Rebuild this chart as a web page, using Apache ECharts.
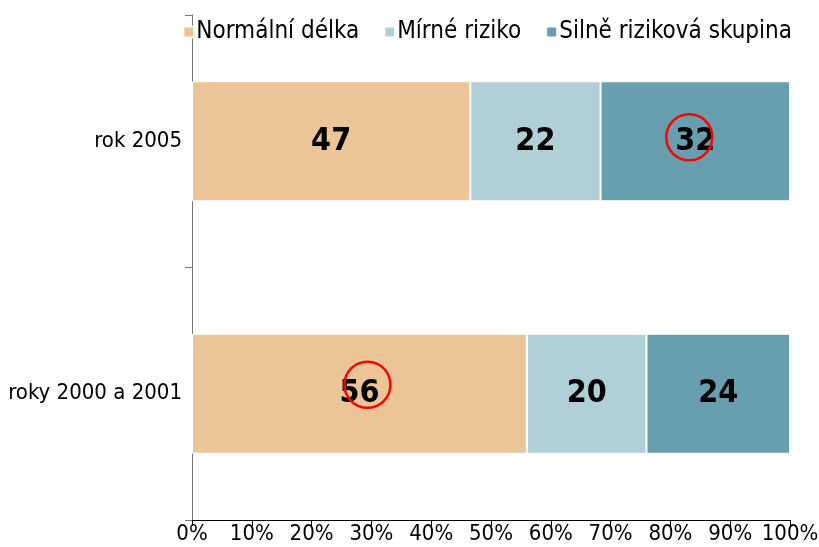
<!DOCTYPE html>
<html>
<head>
<meta charset="utf-8">
<script src="https://cdn.jsdelivr.net/npm/echarts@6/dist/echarts.min.js"></script>
<style>
  html, body { margin: 0; padding: 0; background: #fff; }
  #chart { width: 819px; height: 547px; }
</style>
</head>
<body>
<div id="chart"></div>
<script>
// kategorie (shora dolů)
const categories = ['rok 2005', 'roky 2000 a 2001'];
const seriesNames = ['Normální délka', 'Mírné riziko', 'Silně riziková skupina'];
const normalni = [47, 56];
const mirne = [22, 20];
const silne = [32, 24];
const xTicks = [0, 10, 20, 30, 40, 50, 60, 70, 80, 90, 100];
const colors = ['#EBC597', '#B0CFD7', '#689FAE'];

const FONT = '"Liberation Sans Narrow", "DejaVu Sans Condensed", "Liberation Sans", sans-serif';

const raw = [normalni, mirne, silne];
const totals = categories.map((_, i) => raw.reduce((s, arr) => s + arr[i], 0));
const pct = raw.map(arr => arr.map((v, i) => v / totals[i] * 100));

// střed segmentu v procentech (pro zakroužkování)
const mid = (k, i) => {
  let start = 0;
  for (let j = 0; j < k; j++) start += pct[j][i];
  return start + pct[k][i] / 2;
};

const chart = echarts.init(document.getElementById('chart'));

chart.setOption({
  animation: false,
  color: colors,
  legend: {
    right: 22,
    top: 15,
    itemWidth: 11,
    itemHeight: 11,
    itemGap: 24,
    icon: 'rect',
    textStyle: { fontFamily: FONT, fontSize: 24, color: '#000', padding: [0, 0, 0, -3] },
    data: seriesNames,
  },
  grid: {
    left: 192,
    right: 29,
    top: 15,
    bottom: 27,
    containLabel: false,
    outerBoundsMode: 'none',
  },
  xAxis: {
    type: 'value',
    min: 0,
    max: 100,
    interval: 10,
    axisLine: { show: true, lineStyle: { color: '#000', width: 1 } },
    axisTick: { show: true, length: 6, lineStyle: { color: '#000' } },
    splitLine: { show: false },
    axisLabel: {
      fontFamily: FONT,
      fontSize: 22,
      color: '#000',
      margin: 3,
      formatter: v => xTicks.includes(v) ? v + '%' : '',
    },
  },
  yAxis: {
    type: 'category',
    inverse: true,
    data: categories,
    axisLine: { show: true, lineStyle: { color: '#777', width: 1 } },
    axisTick: { show: true, length: 7, lineStyle: { color: '#777' } },
    axisLabel: { fontFamily: FONT, fontSize: 22, color: '#000', margin: 10 },
  },
  series: seriesNames.map((name, k) => ({
    type: 'bar',
    name: name,
    stack: 'total',
    barWidth: 120,
    data: pct[k],
    itemStyle: { borderColor: '#fff', borderWidth: 1 },
    label: {
      show: true,
      position: 'inside',
      fontFamily: FONT,
      fontWeight: 'bold',
      fontSize: 32,
      color: '#000',
      formatter: p => raw[k][p.dataIndex],
    },
    markPoint: k === 0 ? {
      symbol: 'circle',
      symbolSize: 46,
      silent: true,
      label: { show: false },
      itemStyle: { color: 'rgba(0,0,0,0)', borderColor: '#F00', borderWidth: 2.5 },
      data: [
        { coord: [mid(2, 0), categories[0]], symbolOffset: [-6, -4] },
        { coord: [mid(0, 1), categories[1]], symbolOffset: [8, -9] },
      ],
    } : undefined,
  })),
});
</script>
</body>
</html>
